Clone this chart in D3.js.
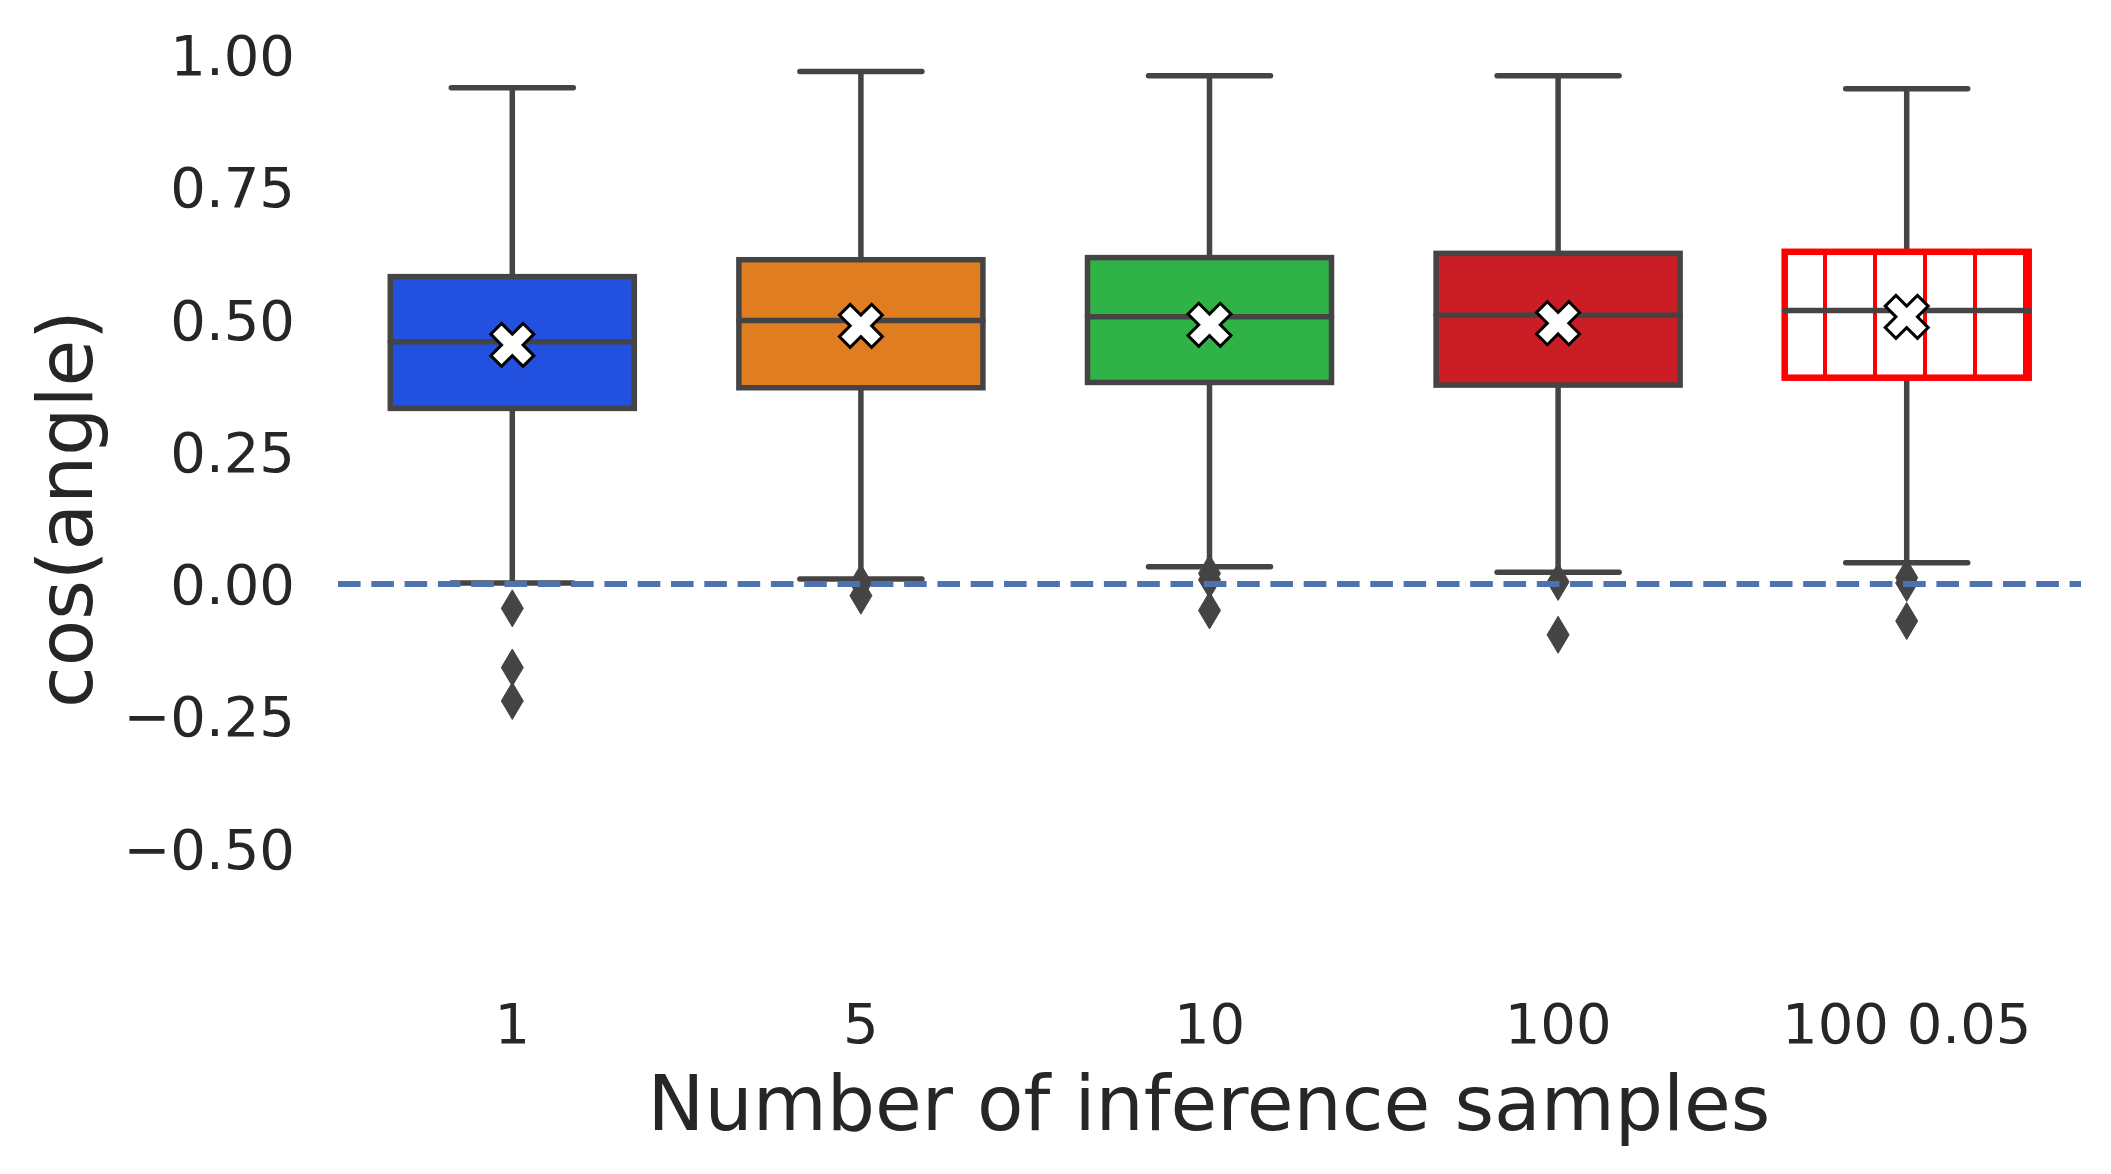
<!DOCTYPE html>
<html>
<head>
<meta charset="utf-8">
<script src="https://cdn.jsdelivr.net/npm/d3@7"></script>
<style>
  body { margin: 0; background: #fff; }
  text { font-family: "DejaVu Sans", sans-serif; fill: #262626; }
</style>
</head>
<body>
<div id="wrapper"></div>
<script>
const groups = ["1", "5", "10", "100", "100 0.05"]
const q1 = [0.332, 0.371, 0.381, 0.376, 0.390]
const medians = [0.458, 0.498, 0.505, 0.508, 0.517]
const q3 = [0.581, 0.613, 0.617, 0.625, 0.628]
const means = [0.452, 0.488, 0.490, 0.493, 0.505]
const whiskerLow = [0.002, 0.0096, 0.0325, 0.0223, 0.040]
const whiskerHigh = [0.938, 0.969, 0.961, 0.961, 0.936]
const outliers = [
  [-0.046, -0.158, -0.221],
  [0.002, -0.022],
  [0.02, 0.008, -0.05],
  [0.004, -0.096],
  [0.012, 0.002, -0.07]
]
const yTicks = [1.0, 0.75, 0.5, 0.25, 0.0, -0.25, -0.5]
const fills = ["#2250df", "#df7d20", "#30b346", "#cb1d25", "#ffffff"]
const edges = ["#444444", "#444444", "#444444", "#444444", "#ff0000"]

function drawBoxPlot() {
  const width = 2111
  const height = 1174
  const gray = "#444444"

  const svg = d3.select("#wrapper")
    .append("svg")
      .attr("width", width)
      .attr("height", height)

  const defs = svg.append("defs")
  const hatch = defs.append("pattern")
    .attr("id", "vhatch")
    .attr("patternUnits", "userSpaceOnUse")
    .attr("width", 50)
    .attr("height", 50)
  hatch.append("rect").attr("width", 50).attr("height", 50).attr("fill", "#fff")
  hatch.append("line")
    .attr("x1", 25).attr("x2", 25).attr("y1", 0).attr("y2", 50)
    .attr("stroke", "#ff0000").attr("stroke-width", 4)

  const x = d3.scaleBand()
    .domain(groups)
    .range([338, 2081])
    .padding(0)

  const y = d3.scaleLinear()
    .domain([-0.5, 1])
    .range([848.5, 55])

  const boxW = x.bandwidth() * 0.7
  const cx = d => x(d) + x.bandwidth() / 2

  // y axis labels (no spine, no ticks)
  const yAxis = d3.axisLeft(y)
    .tickValues(yTicks)
    .tickFormat(d3.format(".2f"))
    .tickSize(0)
    .tickPadding(0)
  const yg = svg.append("g")
    .attr("transform", "translate(295,0)")
    .call(yAxis)
  yg.select(".domain").remove()
  yg.selectAll("text")
    .attr("font-size", 56)
    .attr("font-family", "DejaVu Sans")
    .attr("fill", "#262626")
    .attr("dy", "0.35em")

  // x axis labels
  const xAxis = d3.axisBottom(x).tickSize(0).tickPadding(0)
  const xg = svg.append("g")
    .attr("transform", "translate(0,1043)")
    .call(xAxis)
  xg.select(".domain").remove()
  xg.selectAll("text")
    .attr("font-size", 56)
    .attr("font-family", "DejaVu Sans")
    .attr("fill", "#262626")
    .attr("dy", 0)
    .attr("y", 0)

  svg.append("text")
    .attr("x", 1209)
    .attr("y", 1130)
    .attr("text-anchor", "middle")
    .attr("font-size", 76)
    .text("Number of inference samples")

  svg.append("text")
    .attr("transform", "translate(92,509) rotate(-90)")
    .attr("text-anchor", "middle")
    .attr("font-size", 76)
    .text("cos(angle)")

  const boxes = svg.append("g").selectAll("g")
    .data(groups)
    .enter().append("g")

  // whiskers
  boxes.append("line")
    .attr("x1", d => cx(d)).attr("x2", d => cx(d))
    .attr("y1", (d, i) => y(q3[i])).attr("y2", (d, i) => y(whiskerHigh[i]))
    .attr("stroke", gray).attr("stroke-width", 5.5)
  boxes.append("line")
    .attr("x1", d => cx(d)).attr("x2", d => cx(d))
    .attr("y1", (d, i) => y(q1[i])).attr("y2", (d, i) => y(whiskerLow[i]))
    .attr("stroke", gray).attr("stroke-width", 5.5)

  // caps
  boxes.append("line")
    .attr("x1", d => cx(d) - boxW / 4).attr("x2", d => cx(d) + boxW / 4)
    .attr("y1", (d, i) => y(whiskerHigh[i])).attr("y2", (d, i) => y(whiskerHigh[i]))
    .attr("stroke", gray).attr("stroke-width", 5.5).attr("stroke-linecap", "round")
  boxes.append("line")
    .attr("x1", d => cx(d) - boxW / 4).attr("x2", d => cx(d) + boxW / 4)
    .attr("y1", (d, i) => y(whiskerLow[i])).attr("y2", (d, i) => y(whiskerLow[i]))
    .attr("stroke", gray).attr("stroke-width", 5.5).attr("stroke-linecap", "round")

  // boxes
  boxes.append("rect")
    .attr("x", d => cx(d) - boxW / 2)
    .attr("width", boxW)
    .attr("y", (d, i) => y(q3[i]))
    .attr("height", (d, i) => y(q1[i]) - y(q3[i]))
    .attr("fill", (d, i) => i === 4 ? "url(#vhatch)" : fills[i])
    .attr("stroke", (d, i) => edges[i])
    .attr("stroke-width", (d, i) => i === 4 ? 6.5 : 5.5)

  // medians
  boxes.append("line")
    .attr("x1", d => cx(d) - boxW / 2).attr("x2", d => cx(d) + boxW / 2)
    .attr("y1", (d, i) => y(medians[i])).attr("y2", (d, i) => y(medians[i]))
    .attr("stroke", gray).attr("stroke-width", 5.5).attr("stroke-linecap", "round")

  // fliers (thin diamonds)
  const dh = 18.5, dw = 11
  boxes.selectAll(".flier")
    .data((d, i) => outliers[i].map(v => ({ g: d, v: v })))
    .enter().append("path")
      .attr("class", "flier")
      .attr("d", o => {
        const px = cx(o.g), py = y(o.v)
        return `M${px},${py - dh}L${px + dw},${py}L${px},${py + dh}L${px - dw},${py}Z`
      })
      .attr("fill", gray)
      .attr("stroke", gray)
      .attr("stroke-width", 1)

  // mean markers: filled X
  const xShape = [[-1, -2], [0, -1], [1, -2], [2, -1], [1, 0], [2, 1],
    [1, 2], [0, 1], [-1, 2], [-2, 1], [-1, 0], [-2, -1]]
  const s = 21.5 / 2
  boxes.append("path")
    .attr("d", (d, i) => {
      const px = cx(d), py = y(means[i])
      return "M" + xShape.map(p => `${px + p[0] * s},${py + p[1] * s}`).join("L") + "Z"
    })
    .attr("fill", "#fff")
    .attr("stroke", "#000")
    .attr("stroke-width", 3)
    .attr("stroke-linejoin", "miter")

  // zero reference line
  svg.append("line")
    .attr("x1", 338).attr("x2", 2081)
    .attr("y1", y(0)).attr("y2", y(0))
    .attr("stroke", "#4c72b0")
    .attr("stroke-width", 6)
    .attr("stroke-dasharray", "22.6,10.7")
}

drawBoxPlot()
</script>
</body>
</html>
